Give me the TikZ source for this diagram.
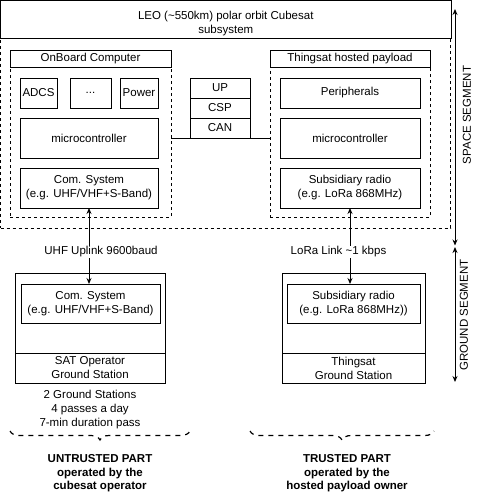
\documentclass[tikz,border=0pt]{standalone}
\usepackage{fontspec}
\setmainfont{Liberation Sans}
\usetikzlibrary{arrows.meta,decorations.pathreplacing}
\begin{document}
\begin{tikzpicture}[x=1pt,y=-1pt,
  font=\fontsize{11.5}{14}\selectfont,
  every node/.style={inner sep=0pt,outer sep=0pt},
  bx/.style={draw,line width=0.9pt,align=center},
  dbx/.style={draw,line width=0.9pt,dashed,dash pattern=on 3pt off 3pt},
  lnk/.style={line width=0.9pt,{Stealth[length=6pt,width=5pt]}-{Stealth[length=6pt,width=5pt]}},
  brc/.style={line width=1.2pt,dash pattern=on 5pt off 5pt,decorate,decoration={brace,mirror,amplitude=9pt}}]
\useasboundingbox (0,0) rectangle (481,495);
% satellite
\node[bx,minimum width=450.5,minimum height=37.5] (sat) at (225.75,19.25) {};
\node[align=center] (sattitle) at (225.75,24) {LEO (\textasciitilde550km) polar orbit Cubesat\\subsystem};
\node[dbx,minimum width=450,minimum height=190] (satbody) at (225.5,133) {};
% OBC
\node[bx,minimum width=161,minimum height=17] (obchead) at (90.5,58.5) {OnBoard Computer};
\node[dbx,minimum width=161,minimum height=150] (obcbody) at (90.5,142) {};
\node[bx,minimum width=37,minimum height=30] (adcs) at (38.5,93) {ADCS};
\node[bx,minimum width=41,minimum height=30] (dots) at (90.5,93) {...};
\node[bx,minimum width=38,minimum height=30] (power) at (139,93) {Power};
\node[bx,minimum width=138,minimum height=40] (mc1) at (89,138) {microcontroller};
\node[bx,minimum width=138,minimum height=40] (com1) at (89,188) {Com. System\\(e.g. UHF/VHF+S-Band)};
% bus stack
\node[bx,minimum width=60,minimum height=20] (up) at (220,88) {UP};
\node[bx,minimum width=60,minimum height=20] (csp) at (220,108) {CSP};
\node[bx,minimum width=60,minimum height=20] (can) at (220,128) {CAN};
% Thingsat
\node[bx,minimum width=160,minimum height=17] (tshead) at (350,58.5) {Thingsat hosted payload};
\node[dbx,minimum width=160,minimum height=150] (tsbody) at (350,142) {};
\node[bx,minimum width=140,minimum height=30] (periph) at (350,93) {Peripherals};
\node[bx,minimum width=140,minimum height=40] (mc2) at (350,138) {microcontroller};
\node[bx,minimum width=140,minimum height=40] (sub1) at (350,188) {Subsidiary radio\\(e.g. LoRa 868MHz)};
\draw[line width=0.9pt] (obcbody.east |- can.south) -- (tsbody.west |- can.south);
% ground stations
\node[bx,minimum width=150,minimum height=80] (gs1top) at (90,313) {};
\node[bx,minimum width=150,minimum height=30] (gs1bot) at (90,368) {SAT Operator\\Ground Station};
\node[bx,minimum width=139,minimum height=39] (gscom1) at (90.5,303.5) {Com. System\\(e.g. UHF/VHF+S-Band)};
\node[bx,minimum width=143,minimum height=80] (gs2top) at (353.5,313) {};
\node[bx,minimum width=143,minimum height=30] (gs2bot) at (353.5,368) {Thingsat\\Ground Station};
\node[bx,minimum width=133,minimum height=39] (gscom2) at (353.5,303.5) {Subsidiary radio\\(e.g. LoRa 868MHz))};
% links
\draw[lnk] (com1.south) -- (com1.south |- gscom1.north);
\draw[lnk] (sub1.south) -- (sub1.south |- gscom2.north);
\node[fill=white,inner sep=1pt] (uhf) at (101,252) {UHF Uplink 9600baud};
\node[fill=white,inner sep=1pt] (lora) at (338.5,252) {LoRa Link \textasciitilde1 kbps};
% segments
\coordinate (spacetop) at (455,9);
\coordinate (spacebot) at (455,245.5);
\coordinate (gndtop) at (455,247);
\coordinate (gndbot) at (455,382);
\draw[lnk] (spacetop) -- (spacebot);
\draw[lnk] (gndtop) -- (gndbot);
\node[rotate=90] (spacelbl) at (467,115) {SPACE SEGMENT};
\node[rotate=90] (gndlbl) at (464,315) {GROUND SEGMENT};
% notes
\node[align=center] (gsnote) at (90,410) {2 Ground Stations\\4 passes a day\\7-min duration pass};
\coordinate (b1l) at (10,431);
\coordinate (b1r) at (190,431);
\coordinate (b2l) at (250,431);
\coordinate (b2r) at (434,431);
\draw[brc] (b1l) -- (b1r);
\draw[brc] (b2l) -- (b2r);
\node[align=center,font=\fontsize{11.5}{13.5}\selectfont\bfseries] (untr) at (100,473.5) {UNTRUSTED PART\\operated by the\\cubesat operator};
\node[align=center,font=\fontsize{11.5}{13.5}\selectfont\bfseries] (tr) at (347,473.5) {TRUSTED PART\\operated by the\\hosted payload owner};
\end{tikzpicture}
\end{document}
